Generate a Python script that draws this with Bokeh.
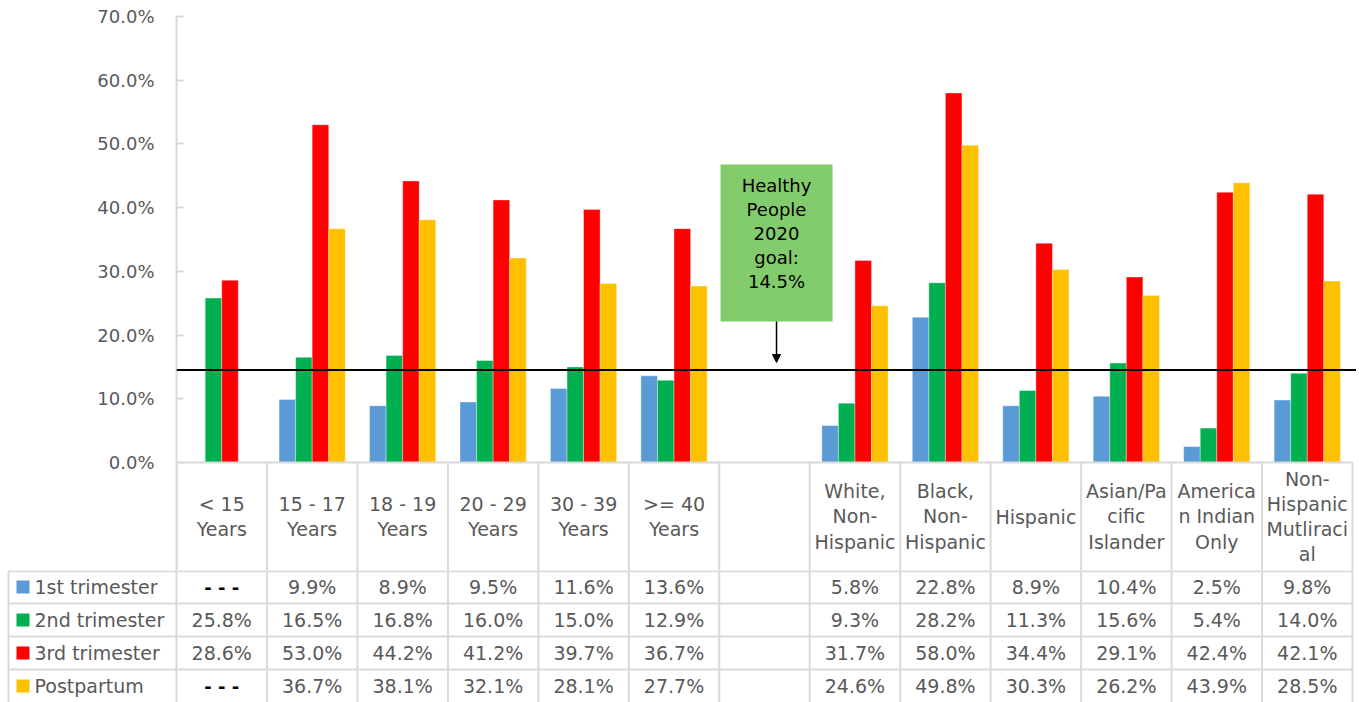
from bokeh.plotting import figure
from bokeh.models import Range1d, FixedTicker, PrintfTickFormatter, Arrow, NormalHead, Span
from bokeh.layouts import column
from bokeh.embed import file_html
from bokeh.resources import INLINE
from bokeh.core.properties import value

# ---------------- data ----------------
categories = ["< 15\nYears", "15 - 17\nYears", "18 - 19\nYears", "20 - 29\nYears",
              "30 - 39\nYears", ">= 40\nYears", "",
              "White,\nNon-\nHispanic", "Black,\nNon-\nHispanic", "Hispanic",
              "Asian/Pa\ncific\nIslander", "America\nn Indian\nOnly",
              "Non-\nHispanic\nMutliraci\nal"]
series_names = ["1st trimester", "2nd trimester", "3rd trimester", "Postpartum"]
first_trimester = [None, 9.9, 8.9, 9.5, 11.6, 13.6, None, 5.8, 22.8, 8.9, 10.4, 2.5, 9.8]
second_trimester = [25.8, 16.5, 16.8, 16.0, 15.0, 12.9, None, 9.3, 28.2, 11.3, 15.6, 5.4, 14.0]
third_trimester = [28.6, 53.0, 44.2, 41.2, 39.7, 36.7, None, 31.7, 58.0, 34.4, 29.1, 42.4, 42.1]
postpartum = [None, 36.7, 38.1, 32.1, 28.1, 27.7, None, 24.6, 49.8, 30.3, 26.2, 43.9, 28.5]
blank_columns = [6]
y_ticks = [0, 10, 20, 30, 40, 50, 60, 70]
goal = 14.5
goal_label = "Healthy\nPeople\n2020\ngoal:\n14.5%"
missing_text = "- - -"

series_values = [first_trimester, second_trimester, third_trimester, postpartum]
colors = ["#5B9BD5", "#00B050", "#FF0000", "#FFC000"]

FONT = "DejaVu Sans"
GRAY = "#595959"
GRID = "#D9D9D9"
n = len(categories)
px_per_unit = 90.46
left_pad_px = 176
fig_w = 1356
frame_w = fig_w - left_pad_px
x_end = frame_w / px_per_unit
y_top = 70
px_per_pct = 446 / 70
y_bottom = -108 / px_per_pct

# ---------------- chart + header ----------------
pA = figure(width=fig_w, height=570, output_backend="svg", toolbar_location=None,
            x_range=Range1d(0, x_end), y_range=Range1d(y_bottom, y_top),
            x_axis_location=None, min_border_left=left_pad_px, min_border_right=0,
            min_border_top=16, min_border_bottom=0, outline_line_color=None)
pA.frame_align = False
pA.xgrid.visible = False
pA.ygrid.visible = False
ax = pA.yaxis[0]
ax.ticker = FixedTicker(ticks=y_ticks)
ax.formatter = PrintfTickFormatter(format="%.1f%%")
ax.major_label_text_font = FONT
ax.major_label_text_font_size = "18px"
ax.major_label_text_color = GRAY
ax.major_label_standoff = 22
ax.axis_line_color = GRID
ax.axis_line_width = 2
ax.major_tick_line_color = GRID
ax.major_tick_line_width = 2
ax.major_tick_in = 7
ax.major_tick_out = 0
ax.minor_tick_line_color = None

bar_w = 0.183
offsets = [-1.5, -0.5, 0.5, 1.5]
for vals, col, off in zip(series_values, colors, offsets):
    xs = [i + 0.5 + off * bar_w for i, v in enumerate(vals) if v is not None]
    tops = [v for v in vals if v is not None]
    pA.vbar(x=xs, top=tops, bottom=0, width=bar_w, fill_color=col,
            line_color="white", line_alpha=0.35, line_width=1)

# header grid lines
bounds = list(range(n + 1))
pA.segment(x0=bounds, y0=[0] * len(bounds), x1=bounds, y1=[y_bottom] * len(bounds),
           line_color=GRID, line_width=2)
pA.segment(x0=[0], y0=[0], x1=[n], y1=[0], line_color=GRID, line_width=2)

# category labels
pA.text(x=[i + 0.5 for i in range(n)], y=[y_bottom / 2] * n, text=categories,
        text_font=value(FONT), text_font_size="19px", text_color=GRAY,
        text_align="center", text_baseline="middle", text_line_height=1.15)

# goal line and callout
pA.add_layout(Span(location=goal, dimension="width", line_color="black", line_width=2))
box_l, box_r, box_b, box_t = 6.014, 7.252, 22.13, 46.77
pA.quad(left=[box_l], right=[box_r], bottom=[box_b], top=[box_t],
        fill_color="#83CC6E", line_color=None)
cx = (box_l + box_r) / 2
pA.text(x=[cx], y=[(box_b + box_t) / 2 + 1.5], text=[goal_label],
        text_font=value(FONT), text_font_size="18px", text_color="black",
        text_align="center", text_baseline="middle", text_line_height=1.15)
pA.add_layout(Arrow(x_start=cx, y_start=box_b, x_end=cx, y_end=goal + 1.2,
                    line_color="black", line_width=1.5,
                    end=NormalHead(size=8, fill_color="black", line_color="black")))

# ---------------- data table ----------------
nrows = len(series_names)
pB = figure(width=fig_w, height=132, output_backend="svg", toolbar_location=None,
            x_range=Range1d(-left_pad_px / px_per_unit, x_end),
            y_range=Range1d(nrows - 4.0, nrows),
            x_axis_location=None, y_axis_location=None,
            min_border_left=0, min_border_right=0, min_border_top=0, min_border_bottom=0,
            outline_line_color=None)
pB.frame_align = False
pB.xgrid.visible = False
pB.ygrid.visible = False
left_edge = -(left_pad_px - 8) / px_per_unit
hy = [nrows - 0.02] + list(range(nrows - 1, 0, -1))
pB.segment(x0=[left_edge] * len(hy), y0=hy, x1=[n] * len(hy), y1=hy,
           line_color=GRID, line_width=2)
vx = [left_edge] + bounds
pB.segment(x0=vx, y0=[0] * len(vx), x1=vx, y1=[nrows] * len(vx), line_color=GRID, line_width=2)

row_y = [nrows - r - 0.5 for r in range(nrows)]
pB.scatter(x=[(22.5 - left_pad_px) / px_per_unit] * nrows, y=row_y, marker="square", size=13,
           fill_color=colors, line_color=None)
pB.text(x=[(34 - left_pad_px) / px_per_unit] * nrows, y=row_y, text=series_names,
        text_font=value(FONT), text_font_size="19px", text_color=GRAY,
        text_align="left", text_baseline="middle")

vx_, vy_, vt_, mx_, my_, mt_ = [], [], [], [], [], []
for r, vals in enumerate(series_values):
    for i, v in enumerate(vals):
        if i in blank_columns:
            continue
        if v is None:
            mx_.append(i + 0.5); my_.append(row_y[r]); mt_.append(missing_text)
        else:
            vx_.append(i + 0.5); vy_.append(row_y[r]); vt_.append("%.1f%%" % v)
pB.text(x=vx_, y=vy_, text=vt_, text_font=value(FONT), text_font_size="19px",
        text_color=GRAY, text_align="center", text_baseline="middle")
pB.text(x=mx_, y=my_, text=mt_, text_font=value(FONT), text_font_size="18px",
        text_color="black", text_font_style="bold", text_align="center", text_baseline="middle")

layout = column(pA, pB, spacing=0)
open("out.html", "w").write(file_html(layout, INLINE))
